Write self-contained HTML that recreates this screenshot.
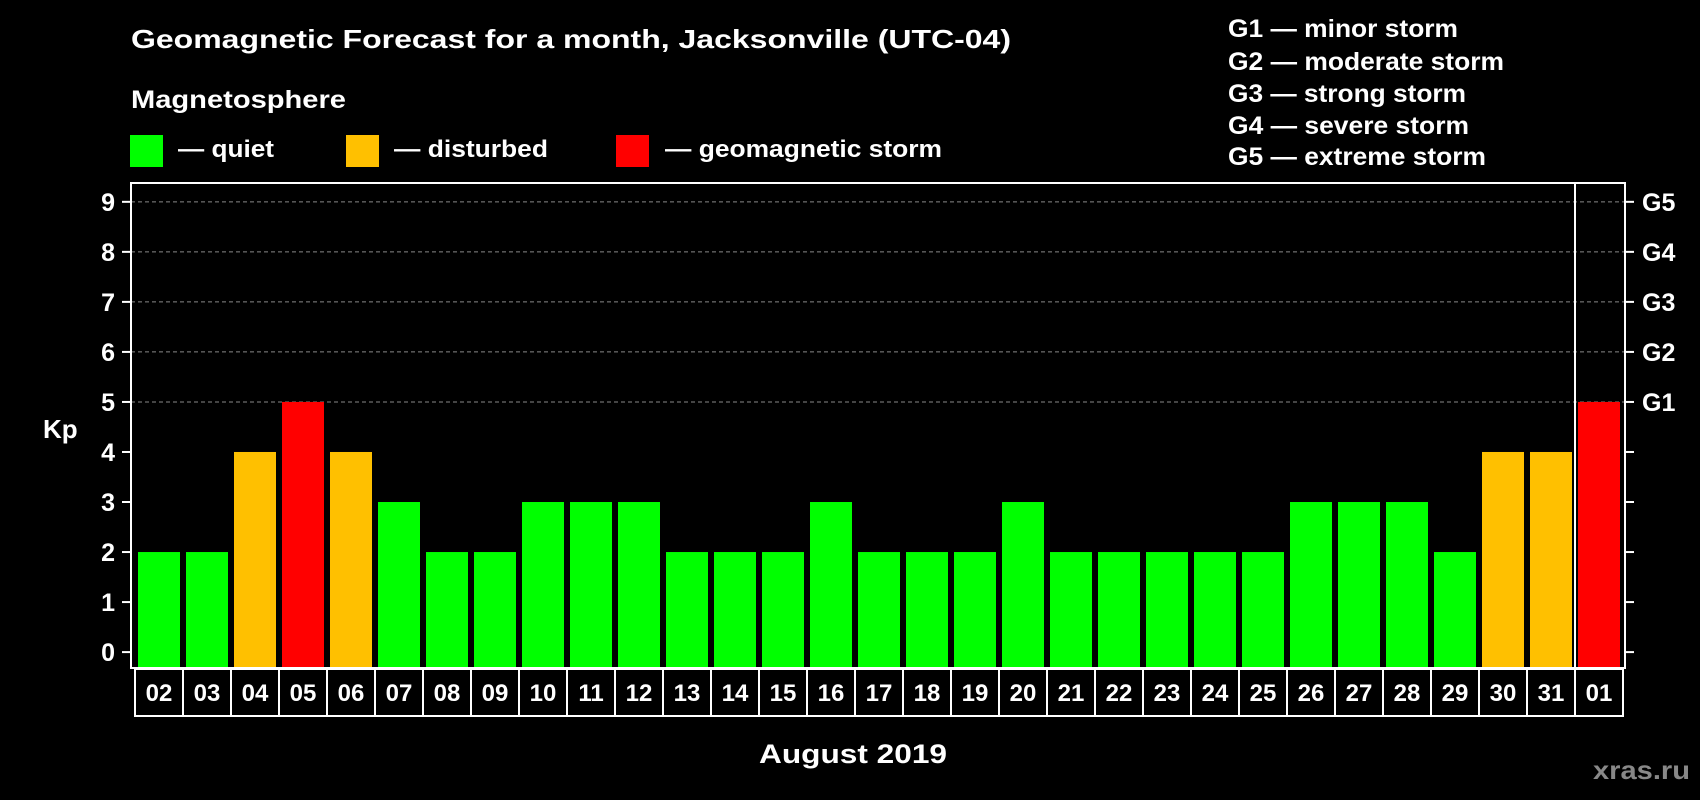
<!DOCTYPE html>
<html><head><meta charset="utf-8"><style>
html,body{margin:0;padding:0;background:#000;}
svg{display:block;font-family:"Liberation Sans",Arial,sans-serif;font-weight:bold;}
</style></head><body>
<svg id="chart" width="1700" height="800" viewBox="0 0 1700 800" xmlns="http://www.w3.org/2000/svg">
<rect width="1700" height="800" fill="#000"/>
<text x="131" y="48" fill="#fff" font-size="26" textLength="880" lengthAdjust="spacingAndGlyphs">Geomagnetic Forecast for a month, Jacksonville (UTC-04)</text>
<text x="131" y="108" fill="#fff" font-size="25" textLength="215" lengthAdjust="spacingAndGlyphs">Magnetosphere</text>
<rect x="130" y="135" width="33" height="32" fill="#00ff00"/>
<text x="178" y="157" fill="#fff" font-size="24" textLength="96" lengthAdjust="spacingAndGlyphs">— quiet</text>
<rect x="346" y="135" width="33" height="32" fill="#ffc000"/>
<text x="394" y="157" fill="#fff" font-size="24" textLength="154" lengthAdjust="spacingAndGlyphs">— disturbed</text>
<rect x="616" y="135" width="33" height="32" fill="#ff0000"/>
<text x="665" y="157" fill="#fff" font-size="24" textLength="277" lengthAdjust="spacingAndGlyphs">— geomagnetic storm</text>
<g fill="#fff" font-size="25">
<text x="1228" y="37" textLength="230" lengthAdjust="spacingAndGlyphs">G1 — minor storm</text>
<text x="1228" y="70" textLength="276" lengthAdjust="spacingAndGlyphs">G2 — moderate storm</text>
<text x="1228" y="102" textLength="238" lengthAdjust="spacingAndGlyphs">G3 — strong storm</text>
<text x="1228" y="134" textLength="241" lengthAdjust="spacingAndGlyphs">G4 — severe storm</text>
<text x="1228" y="165" textLength="258" lengthAdjust="spacingAndGlyphs">G5 — extreme storm</text>
</g>
<text x="43" y="438" fill="#fff" font-size="26">Kp</text>
<g id="plot"></g>
<text x="759" y="763" fill="#fff" font-size="27" textLength="188" lengthAdjust="spacingAndGlyphs">August 2019</text>
<text x="1593" y="779" fill="#888" font-size="26" textLength="97" lengthAdjust="spacingAndGlyphs">xras.ru</text>
</svg>
<script>
const days = ["02","03","04","05","06","07","08","09","10","11","12","13","14","15","16","17","18","19","20","21","22","23","24","25","26","27","28","29","30","31","01"];
const kpValues = [2,2,4,5,4,3,2,2,3,3,3,2,2,2,3,2,2,2,3,2,2,2,2,2,3,3,3,2,4,4,5];
const yTicks = [0,1,2,3,4,5,6,7,8,9];
const gLabels = ["G1","G2","G3","G4","G5"];
const gLevels = [5,6,7,8,9];

const NS = "http://www.w3.org/2000/svg";
const g = document.getElementById("plot");
const L = 131, R = 1625, T = 183, B = 668;
const y0 = 652.1, unit = 50.03;
const yScale = v => y0 - unit * v;
const step = 48, barW = 42, x0 = 138;
const xScale = i => x0 + step * i;
function mk(tag, attrs){const e=document.createElementNS(NS,tag);for(const k in attrs)e.setAttribute(k,attrs[k]);g.appendChild(e);return e;}
function color(v){return v>=5?"#ff0000":(v>=4?"#ffc000":"#00ff00");}

gLevels.forEach(v=>{
  const e = mk("line",{x1:L,x2:R,y1:yScale(v),y2:yScale(v),stroke:"#888","stroke-width":1,"stroke-dasharray":"4,3"});
  
  
});
kpValues.forEach((v,i)=>{
  const e = mk("rect",{x:xScale(i),y:yScale(v),width:barW,height:B-yScale(v),fill:color(v)});
  
  
});
const fr = mk("rect",{x:L,y:T,width:R-L,height:B-T,fill:"none",stroke:"#fff","stroke-width":2});


const dv = mk("line",{x1:xScale(days.length-1)-3,x2:xScale(days.length-1)-3,y1:T,y2:B,stroke:"#fff","stroke-width":2});


yTicks.forEach(v=>{
  const y = yScale(v);
  const t1 = mk("line",{x1:L-9,x2:L,y1:y,y2:y,stroke:"#fff","stroke-width":2});
  
  
  const t2 = mk("line",{x1:R,x2:R+9,y1:y,y2:y,stroke:"#fff","stroke-width":2});
  
  
  const tx = mk("text",{x:115,y:y+9,fill:"#fff","font-size":25,"text-anchor":"end"});
  tx.textContent = v;
  
  
});
gLabels.forEach((s,i)=>{
  const tx = mk("text",{x:1642,y:yScale(gLevels[i])+9,fill:"#fff","font-size":25});
  tx.textContent = s;
  
  
});
days.forEach((d,i)=>{
  const cx = xScale(i) - 3;
  const c = mk("rect",{x:cx,y:669,width:step,height:47,fill:"none",stroke:"#fff","stroke-width":2});
  
  
  const tx = mk("text",{x:cx+step/2,y:701,fill:"#fff","font-size":24,"text-anchor":"middle"});
  tx.textContent = d;
  
  
});
</script>
</body></html>
